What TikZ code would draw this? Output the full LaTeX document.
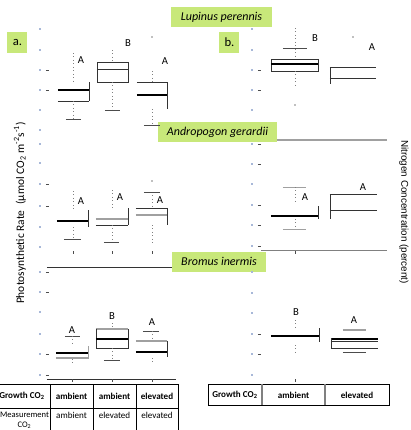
\documentclass[tikz,border=0pt]{standalone}
\usepackage{fontspec}
\setmainfont{Carlito}
\newfontfamily\arialf{Liberation Sans}
\definecolor{tgreen}{HTML}{C8E87A}
\definecolor{tick}{HTML}{A8B8D8}
\definecolor{gl}{HTML}{A0A0A0}
\begin{document}
\begin{tikzpicture}[x=0.75pt,y=-0.75pt,
  titlebox/.style={fill=tgreen,inner sep=0pt,minimum height=15pt,font=\fontsize{9}{10}\selectfont\itshape},
  panel/.style={fill=tgreen,inner sep=0pt,minimum width=15pt,minimum height=16pt,font=\fontsize{9.5}{10}\selectfont},
  lett/.style={font=\fontsize{8}{9}\selectfont,inner sep=0pt},
  bx/.style={line width=0.6pt,black!80},
  med/.style={line width=1.2pt,black},
  gr/.style={line width=1.2pt,gl},
  wh/.style={line width=0.6pt,gray,dotted},
  wcap/.style={line width=0.7pt,black!70},
  tk/.style={fill=tick,draw=none},
  tm/.style={line width=0.5pt,black!70},
  cell/.style={font=\fontsize{6.8}{7.5}\selectfont\bfseries,inner sep=0pt},
  cellr/.style={font=\fontsize{6.8}{7.5}\selectfont,inner sep=0pt,align=center},
  tgrid/.style={line width=0.7pt,black},
  tgridg/.style={line width=1.1pt,gray}]
\clip (0,0) rectangle (411,430);
\fill[white] (0,0) rectangle (411,430);

% ---------- titles ----------
\node[titlebox,minimum width=76pt] (lup) at (221.5,17) {Lupinus perennis};
\node[titlebox,minimum width=89pt] (andro) at (217.5,132) {Andropogon gerardii};
\node[titlebox,minimum width=70pt] (brom) at (219,261.5) {Bromus inermis};
\node[panel] (pa) at (17.5,42.5) {a.};
\node[panel] (pb) at (229.5,42.5) {b.};

% ---------- axis labels ----------
\node[rotate=90,font=\fontsize{8.6}{9}\selectfont,inner sep=0pt] (ylab) at (20,213) {Photosynthetic Rate\enspace(μmol CO\textsubscript{2} m\textsuperscript{-2}s\textsuperscript{-1})};
\node[rotate=-90,font=\arialf\fontsize{7.4}{8}\selectfont,inner sep=0pt] (nlab) at (404,212) {Nitrogen Concentration (percent)};

% ---------- tick labels (illegible) ----------
\foreach \y in {29,50,70,90,110,130,144,163,184,206,227,247,272,292,312,334,354,375}
  \fill[tk] (39.5,\y-1.2) rectangle (41.5,\y+1.2);
\foreach \y in {29,50,70,90,110,144,164,184,205,225,246,272,293,313,334,354,375}
  \fill[tk] (251.5,\y-0.8) rectangle (253.5,\y+0.8);
\foreach \y in {70,90,184,206,272,292,354,375}
  \draw[tm] (46,\y) -- (49,\y);
\foreach \y in {70,90,144,164,205,225,246,334,354}
  \draw[tm] (258,\y) -- (261,\y);

% ---------- panel a: Lupinus ----------
\draw[med] (58,90) -- (89,90);
\draw[bx] (89,82) -- (89,101);
\draw[bx] (58,101) -- (89,101);
\draw[wh] (73,53) -- (73,82);
\draw[wh] (73,101) -- (73,119);
\draw[wcap] (66,119) -- (81,119);
\node[lett] (la1) at (81,60) {A};

\draw[bx] (97,62) rectangle (128,82);
\draw[bx] (97,69) -- (128,69);
\draw[wh] (112,50) -- (112,62);
\draw[wh] (112,82) -- (112,110);
\draw[wcap] (105,110) -- (120,110);
\node[lett] (la2) at (128,43) {B};

\draw[bx] (137,82) -- (167,82);
\draw[med] (137,95) -- (167,95);
\draw[bx] (167,82) -- (167,109);
\draw[wh] (152,71) -- (152,82);
\fill[gray] (152,37) circle (0.9);
\draw[wh] (152,109) -- (152,125);
\draw[wcap] (144,125) -- (160,125);
\node[lett] (la3) at (165,61) {A};

% ---------- panel b: Lupinus ----------
\draw[bx] (271,59) rectangle (318,71);
\draw[med] (271,64) -- (318,64);
\draw[wcap] (283,48) -- (307,48);
\draw[wh] (295,28) -- (295,59);
\draw[wh] (295,71) -- (295,85);
\fill[gray] (295,105) circle (0.8);
\node[lett] (lb1) at (315,38) {B};
\draw[bx] (330,67) -- (376,67);
\draw[bx] (330,78) -- (376,78);
\draw[bx] (330,67) -- (330,84);
\fill[gray] (353,37) circle (0.9);
\node[lett] (lb2) at (372,47) {A};

% ---------- panel a: Andropogon ----------
\draw[med] (57,221) -- (88,221);
\draw[bx] (88,210) -- (88,227);
\draw[wh] (73,191) -- (73,211);
\draw[wh] (73,227) -- (73,239);
\draw[wcap] (64,239) -- (81,239);
\node[lett] (la4) at (81,201) {A};

\draw[gr] (96,219) -- (128,219);
\draw[bx] (96,225) -- (128,225);
\draw[bx] (128,208) -- (128,225);
\draw[wh] (112,190) -- (112,210);
\draw[wh] (112,225) -- (112,242);
\draw[wcap] (104,242) -- (119,242);
\node[lett] (la5) at (120,197) {A};

\draw[bx] (136,208) -- (167,208);
\draw[gr] (136,215) -- (167,215);
\draw[bx] (167,208) -- (167,225);
\draw[wh] (152,192) -- (152,208);
\draw[wcap] (144,192) -- (160,192);
\fill[gray] (152,181) circle (0.9);
\draw[wh] (152,225) -- (152,245);
\node[lett] (la6) at (160,200) {A};
\foreach \x in {73,112,152} \draw[tm] (\x,251) -- (\x,254);
\draw[bx] (47,267) -- (172,267);

% ---------- panel b: Andropogon ----------
\draw[gl,line width=0.8pt] (277,140) -- (387,140);
\draw[med] (271,216) -- (318,216);
\draw[bx] (318,206) -- (318,219);
\draw[wcap,gl] (283,187) -- (306,187);
\draw[wh] (295,187) -- (295,204);
\draw[wh] (295,219) -- (295,229);
\draw[wcap,gl] (283,229) -- (306,229);
\node[lett] (lb3) at (305,197) {A};
\draw[bx] (330,194) -- (330,219);
\draw[bx] (330,194) -- (377,194);
\draw[bx] (330,210) -- (377,210);
\node[lett] (lb4) at (363,187) {A};
\draw[bx,gray] (261,250) -- (387,250);
\draw[tm] (295,251) -- (295,254);

% ---------- panel a: Bromus ----------
\draw[med] (56,353) -- (88,353);
\draw[gr,line width=0.9pt] (56,358) -- (88,358);
\draw[bx,gl] (88,346) -- (88,359);
\draw[wcap] (65,336) -- (80,336);
\draw[wh] (72,336) -- (72,346);
\draw[wh] (72,359) -- (72,365);
\node[lett] (la7) at (72,330) {A};

\draw[gr,line width=0.9pt] (96,329) -- (128,329);
\draw[bx] (96,329) -- (96,348) -- (128,348) -- (128,329);
\draw[med,line width=0.9pt] (96,339) -- (128,339);
\draw[wh] (112,323) -- (112,329);
\draw[wh] (112,348) -- (112,360);
\draw[wcap] (104,360) -- (120,360);
\node[lett] (la8) at (112,316) {B};

\draw[gr,line width=0.9pt] (136,341) -- (167,341);
\draw[med] (136,352) -- (167,352);
\draw[bx] (167,341) -- (167,357);
\draw[wcap] (143,331) -- (159,331);
\draw[wh] (152,331) -- (152,341);
\draw[wh] (152,358) -- (152,364);
\node[lett] (la9) at (152,322) {A};
\draw[bx] (47,379) -- (176,379);
\foreach \x in {72,112,152} \draw[tm] (\x,379) -- (\x,382);

% ---------- panel b: Bromus ----------
\draw[med,line width=0.9pt] (271,336) -- (319,336);
\draw[bx] (319,328) -- (319,342);
\draw[wh] (295,320) -- (295,327);
\draw[wh] (295,345) -- (295,355);
\draw[tm] (295,379) -- (295,382);
\node[lett] (lb5) at (296,312) {B};
\draw[gr,line width=0.9pt] (343,330) -- (366,330);
\draw[med,line width=0.9pt] (331,339) -- (378,339);
\draw[bx] (331,341) -- (378,341);
\draw[bx] (331,348) -- (378,348);
\draw[bx] (331,338) -- (331,348);
\draw[wcap] (343,352) -- (366,352);
\node[lett] (lb6) at (354,320) {A};

% ---------- table a ----------
\draw[tgrid] (-10,384) -- (178,384) -- (178,440);
\draw[tgrid] (-10,408) -- (178,408);
\draw[tgrid] (50,384) -- (50,440);
\draw[tgrid] (93,384) -- (93,440);
\draw[tgrid] (136,384) -- (136,440);
\node[cell] (ta0) at (22,396) {Growth CO\textsubscript{2}};
\node[cell] (ta1) at (71.5,396) {ambient};
\node[cell] (ta2) at (114.5,396) {ambient};
\node[cell] (ta3) at (157,396) {elevated};
\node[cellr,font=\fontsize{6.4}{7}\selectfont] (tb0) at (24.5,420.5) {Measurement\\CO\textsubscript{2}};
\node[cellr] (tb1) at (71.5,415) {ambient};
\node[cellr] (tb2) at (114.5,415) {elevated};
\node[cellr] (tb3) at (157,415) {elevated};

% ---------- table b ----------
\draw[tgrid] (208,384) rectangle (389,405);
\draw[tgridg] (262,384) -- (262,405);
\draw[tgridg] (325,384) -- (325,405);
\node[cell] (tc0) at (235,395) {Growth CO\textsubscript{2}};
\node[cell] (tc1) at (293.5,395) {ambient};
\node[cell] (tc2) at (357,395) {elevated};
\end{tikzpicture}
\end{document}
